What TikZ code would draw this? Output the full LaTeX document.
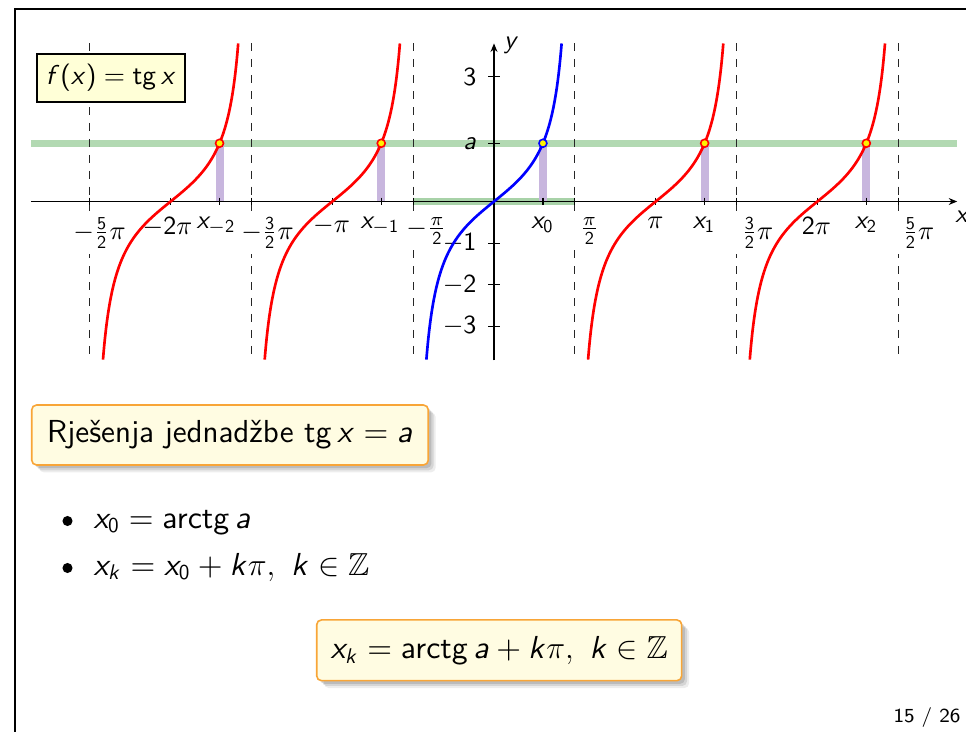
\documentclass[tikz,border=0pt]{standalone}
\usepackage{amsmath,amssymb}
\usetikzlibrary{arrows.meta,shadows}
\renewcommand{\familydefault}{\sfdefault}
\DeclareFontFamily{OT1}{mysf}{}
\DeclareFontShape{OT1}{mysf}{m}{n}{<-> cmss10}{}
\DeclareFontShape{OT1}{mysf}{m}{sl}{<-> cmssi10}{}
\DeclareSymbolFont{sfit}{OT1}{mysf}{m}{sl}
\SetSymbolFont{operators}{normal}{OT1}{mysf}{m}{n}
\DeclareMathSymbol{a}{\mathalpha}{sfit}{`a}
\DeclareMathSymbol{f}{\mathalpha}{sfit}{`f}
\DeclareMathSymbol{k}{\mathalpha}{sfit}{`k}
\DeclareMathSymbol{x}{\mathalpha}{sfit}{`x}
\DeclareMathSymbol{y}{\mathalpha}{sfit}{`y}
\newcommand{\fsPlot}{\fontsize{9.8}{11}\selectfont}
\newcommand{\fsLegend}{\fontsize{10.3}{12.5}\selectfont}
\newcommand{\fsText}{\fontsize{12}{14.4}\selectfont}
\newcommand{\fsPage}{\fontsize{7.5}{9}\selectfont}
\definecolor{bandgreen}{RGB}{178,217,178}
\definecolor{axisgreen}{RGB}{168,210,168}
\definecolor{barviolet}{RGB}{200,182,222}
\definecolor{legendfill}{RGB}{255,255,215}
\definecolor{boxfill}{RGB}{255,252,226}
\definecolor{boxborder}{RGB}{248,165,55}
\begin{document}
\begin{tikzpicture}[x=0.377pt, y=-0.377pt,
  plotcs/.style={shift={(494,201.5)}, x=19.404pt, y=15.683pt},
  xlab/.style={anchor=north, yshift=-3.7pt, inner sep=2pt, fill=white, font=\fsPlot},
  ylab/.style={anchor=east, inner sep=0pt, font=\fsPlot},
  axislab/.style={inner sep=0pt, font=\fsPlot},
  tancurve/.style={line width=1pt},
  dotmark/.style={fill=yellow, line width=0.6pt},
  asym/.style={dashed, black!85, line width=0.45pt},
  itemdot/.style={circle, fill=black, inner sep=0pt, minimum size=3.8pt},
  softshadow/.style={
    general shadow={shadow xshift=1.2pt, shadow yshift=-1.2pt, fill=black, opacity=0.12},
    general shadow={shadow xshift=2pt, shadow yshift=-2pt, fill=black, opacity=0.10},
    general shadow={shadow xshift=2.8pt, shadow yshift=-2.8pt, fill=black, opacity=0.07}},
  callout/.style={draw=boxborder, fill=boxfill, line width=0.6pt, rounded corners=1.8pt, softshadow, inner sep=0pt, font=\fsText},
  legendbox/.style={draw=black, fill=legendfill, line width=0.5pt, inner sep=0pt, font=\fsLegend}
]
\useasboundingbox (0,0) rectangle (966,732);
% frame edges
\draw[line width=0.45pt] (15,732) -- (15,9) -- (966,9);

\def\xa{0.950547}
\begin{scope}[plotcs]
  % bands
  \draw[bandgreen, line width=2.8pt] (-9,1.4) -- (9,1.4);
  \draw[axisgreen, line width=2.8pt] ({-pi/2},0) -- ({pi/2},0);
  \foreach \k in {-2,-1,0,1,2}
    \draw[barviolet, line width=3pt] ({\xa+(\k)*pi},0) -- ({\xa+(\k)*pi},1.4);
  % asymptotes
  \foreach \m in {-5,-3,-1,1,3,5}
    \draw[asym] ({(\m)*pi/2},3.8) -- ({(\m)*pi/2},-3.82);
  % axes
  \coordinate (xs) at (-9,0); \coordinate (xe) at (9,0);
  \coordinate (ys) at (0,-3.82); \coordinate (ye) at (0,3.8);
  \draw[line width=0.5pt, -{Stealth[length=3.2pt,width=2.6pt]}] (xs) -- (xe);
  \draw[line width=0.5pt, -{Stealth[length=3.2pt,width=2.6pt]}] (ys) -- (ye);
  % x ticks
  \foreach \t in {-7.853982,-6.283185,-5.332638,-4.712389,-3.141593,-2.191046,-1.570796,
                  0.950547,1.570796,3.141593,4.092140,4.712389,6.283185,7.233732,7.853982}
    \draw[line width=0.45pt] (\t,0) ++(0,1.5pt) -- ++(0,-3pt);
  % y ticks
  \foreach \v in {-3,-2,-1,1.4,3}
    \draw[line width=0.45pt] (0,\v) ++(-2.2pt,0) -- ++(4.4pt,0);
\end{scope}

% x tick labels
\node[xlab] (lm52) at (99.5,201.5) {$-\frac{5}{2}\pi$};
\node[xlab] (lm2)  at (167.5,201.5) {$-2\pi$};
\node[xlab] (lxm2) at (216,201.5) {$x_{-2}$};
\node[xlab] (lm32) at (267.5,201.5) {$-\frac{3}{2}\pi$};
\node[xlab] (lm1)  at (331.5,201.5) {$-\pi$};
\node[xlab] (lxm1) at (380,201.5) {$x_{-1}$};
\node[xlab] (lm12) at (426.5,201.5) {$-\frac{\pi}{2}$};
\node[xlab] (lx0)  at (542.5,201.5) {$x_0$};
\node[xlab] (l12)  at (589.5,201.5) {$\frac{\pi}{2}$};
\node[xlab] (l1)   at (655.5,201.5) {$\pi$};
\node[xlab] (lx1)  at (704,201.5) {$x_1$};
\node[xlab] (l32)  at (757.5,201.5) {$\frac{3}{2}\pi$};
\node[xlab] (l2)   at (816.5,201.5) {$2\pi$};
\node[xlab] (lx2)  at (866,201.5) {$x_2$};
\node[xlab] (l52)  at (918.5,201.5) {$\frac{5}{2}\pi$};
% y tick labels
\node[ylab] (ly3)  at (477,76.7) {$3$};
\node[ylab] (lya)  at (477,143.3) {$a$};
\node[ylab] (lym1) at (477,243.1) {$-1$};
\node[ylab] (lym2) at (477,284.7) {$-2$};
\node[ylab] (lym3) at (477,326.3) {$-3$};
% axis names
\node[axislab] (ly) at (511.5,45) {$y$};
\node[axislab] (lx) at (962.5,217) {$x$};

\begin{scope}[plotcs]
  \foreach \k in {-2,-1,1,2}
    \draw[red, tancurve] plot[domain=-3.8:3.8, samples=141, smooth, variable=\t] ({rad(atan(\t))+(\k)*pi}, {\t});
  \draw[blue, tancurve] plot[domain=-3.8:3.8, samples=141, smooth, variable=\t] ({rad(atan(\t))}, {\t});
  \foreach \k in {-2,-1,1,2}
    \filldraw[dotmark, draw=red] ({\xa+(\k)*pi},1.4) circle[radius=1.5pt];
  \filldraw[dotmark, draw=blue] (\xa,1.4) circle[radius=1.5pt];
\end{scope}

% legend
\node[legendbox, minimum width=55.8pt, minimum height=18.1pt] (legend) at (111,78) {$f(x) = \operatorname{tg} x$};

% header box
\node[callout, minimum width=149.5pt, minimum height=22.6pt] (hdr) at (230,435) {Rješenja jednadžbe $\operatorname{tg} x = a$};

% bullets
\node[itemdot] (b1) at (67.5,521) {};
\node[itemdot] (b2) at (67.5,568) {};
\node[font=\fsText, inner sep=0pt, anchor=base west] (t1) at (93,528) {$x_0 = \operatorname{arctg} a$};
\node[font=\fsText, inner sep=0pt, anchor=base west] (t2) at (93,575) {$x_k = x_0 + k\pi,\ k \in \mathbb{Z}$};

% result box
\node[callout, minimum width=137.6pt, minimum height=22.9pt] (res) at (499.2,650.3) {$x_k = \operatorname{arctg} a + k\pi,\ k \in \mathbb{Z}$};

% page number
\node[font=\fsPage, inner sep=0pt, anchor=east] (pg) at (961,717.5) {15 / 26};
\end{tikzpicture}
\end{document}
